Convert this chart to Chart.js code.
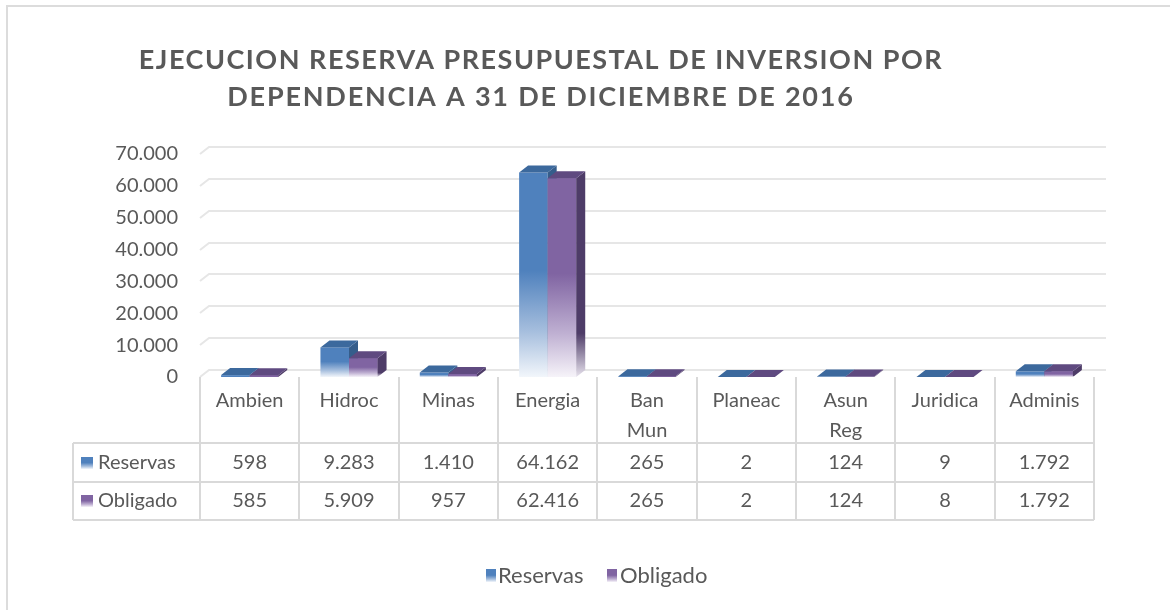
<!doctype html>
<html lang="es">
<head>
<meta charset="utf-8">
<title>Ejecucion reserva presupuestal</title>
<style>
  * { margin: 0; padding: 0; box-sizing: border-box; }
  body { background: #fff; width: 1170px; height: 610px; overflow: hidden; position: relative; }
  .frame { position: absolute; left: 6px; top: 5px; width: 1300px; height: 700px;
    border-left: 2px solid #dcdcdc; border-top: 2px solid #dcdcdc; }
  .cw { position: absolute; left: 0; top: 0; width: 1170px; height: 610px; }
</style>
<script src="https://cdn.jsdelivr.net/npm/chart.js@4.4.1/dist/chart.umd.min.js"></script>
</head>
<body>
<div class="frame"></div>
<div class="cw"><canvas id="c" width="1170" height="610"></canvas></div>
<script>
  // data
  const categories = [["Ambien"], ["Hidroc"], ["Minas"], ["Energia"], ["Ban", "Mun"], ["Planeac"], ["Asun", "Reg"], ["Juridica"], ["Adminis"]];
  const reservas = [598, 9283, 1410, 64162, 265, 2, 124, 9, 1792];
  const obligado = [585, 5909, 957, 62416, 265, 2, 124, 8, 1792];
  const seriesNames = ["Reservas", "Obligado"];
  const yMax = 70000, yStep = 10000;
  const titleLines = ["EJECUCION RESERVA PRESUPUESTAL DE INVERSION POR", "DEPENDENCIA A 31 DE DICIEMBRE DE 2016"];

  const txt = "#595959", line = "#d9d9d9", grid = "#e6e6e6";
  const FONT = "Lato, 'Open Sans', sans-serif";
  const DX = 9, DY = 7; // 3d depth offset
  const cols = [
    { front: "#4f81bd", mid: "#a7bfde", fade: "#f2f6fb", top: "#3c699d", side: "#355d8b", sideFade: "#dfe6f0" },
    { front: "#8064a2", mid: "#bfb0d2", fade: "#f6f3f9", top: "#5f4a80", side: "#4e3c68", sideFade: "#e6e1ec" },
  ];

  const fmt = (v) => String(v).replace(/\B(?=(\d{3})+(?!\d))/g, ".");

  function vgrad(ctx, top, base, a, b, c, d) {
    const g = ctx.createLinearGradient(0, top, 0, base);
    g.addColorStop(0, a); g.addColorStop(0.48, b); g.addColorStop(0.78, c); g.addColorStop(1, d);
    return g;
  }

  function barFill(c, col) {
    const chart = c.chart, y = chart.scales.y;
    if (!y || !chart.chartArea || c.type !== "data") return col.front;
    const top = y.getPixelForValue(c.parsed.y), base = y.getPixelForValue(0);
    if (base - top < 2) return col.front;
    return vgrad(chart.ctx, top, base, col.front, col.front, col.mid, col.fade);
  }

  function poly(ctx, pts, fill) {
    ctx.beginPath();
    ctx.moveTo(pts[0][0], pts[0][1]);
    for (let k = 1; k < pts.length; k++) ctx.lineTo(pts[k][0], pts[k][1]);
    ctx.closePath();
    ctx.fillStyle = fill;
    ctx.fill();
  }

  function faces(ctx, el, col) {
    const { x, y, base, width } = el.getProps(["x", "y", "base", "width"], true);
    const l = x - width / 2, r = x + width / 2;
    const sideFill = base - y > 2 ? vgrad(ctx, y, base, col.side, col.side, col.side, col.sideFade) : col.side;
    poly(ctx, [[r, y], [r + DX, y - DY], [r + DX, base - DY], [r, base]], sideFill);
    poly(ctx, [[l, y], [l + DX, y - DY], [r + DX, y - DY], [r, y]], col.top);
  }

  function swatch(ctx, x, y, w, h, col) {
    ctx.fillStyle = vgrad(ctx, y, y + h, col.front, col.front, col.mid, col.fade);
    ctx.fillRect(x, y, w, h);
  }

  const threeD = {
    id: "threeD",
    beforeDatasetsDraw(chart) {
      const { ctx, chartArea: a, scales: { y } } = chart;
      ctx.save();
      ctx.strokeStyle = grid;
      ctx.lineWidth = 2;
      for (let v = 0; v <= yMax; v += yStep) {
        const py = Math.round(y.getPixelForValue(v));
        ctx.beginPath();
        ctx.moveTo(a.left, py);
        ctx.lineTo(a.left + DX, py - DY);
        ctx.lineTo(a.right + DX + 3, py - DY);
        ctx.stroke();
      }
      ctx.restore();
    },
    afterDatasetsDraw(chart) {
      const ctx = chart.ctx;
      const m0 = chart.getDatasetMeta(0), m1 = chart.getDatasetMeta(1);
      ctx.save();
      for (let i = 0; i < categories.length; i++) {
        faces(ctx, m0.data[i], cols[0]);
        m1.data[i].draw(ctx);
        faces(ctx, m1.data[i], cols[1]);
      }
      ctx.restore();
    },
    afterDraw(chart) {
      const { ctx, chartArea: a } = chart;
      const cw = a.width / categories.length;
      const rowTop = a.bottom, r1 = 443, r2 = 482, r3 = 520, tableLeft = 73;
      ctx.save();
      // title
      ctx.fillStyle = txt;
      ctx.font = "bold 27px " + FONT;
      ctx.textAlign = "center";
      ctx.textBaseline = "middle";
      ctx.letterSpacing = "1.5px";
      ctx.fillText(titleLines[0], 541, 60);
      ctx.letterSpacing = "1.8px";
      ctx.fillText(titleLines[1], 541, 97);
      ctx.letterSpacing = "0px";
      // table grid
      ctx.strokeStyle = line;
      ctx.lineWidth = 2;
      ctx.beginPath();
      for (let i = 0; i <= categories.length; i++) {
        const px = Math.round(a.left + i * cw);
        ctx.moveTo(px, rowTop);
        ctx.lineTo(px, r3);
      }
      [r1, r2, r3].forEach((ry) => { ctx.moveTo(tableLeft, ry); ctx.lineTo(a.right, ry); });
      ctx.moveTo(tableLeft, r1); ctx.lineTo(tableLeft, r3);
      ctx.stroke();
      // table text
      ctx.font = "20px " + FONT;
      ctx.fillStyle = txt;
      categories.forEach((lab, i) => {
        const cx = a.left + (i + 0.5) * cw;
        lab.forEach((s, k) => ctx.fillText(s, cx, 401 + k * 30));
        ctx.fillText(fmt(reservas[i]), cx, 463);
        ctx.fillText(fmt(obligado[i]), cx, 501);
      });
      ctx.textAlign = "left";
      [[463, 0], [501, 1]].forEach(([ry, s]) => {
        swatch(ctx, 81, ry - 6, 12, 12, cols[s]);
        ctx.fillStyle = txt;
        ctx.fillText(seriesNames[s], 98, ry);
      });
      // legend
      ctx.font = "22px " + FONT;
      [[486, 498], [607, 620]].forEach(([bx, tx], s) => {
        swatch(ctx, bx, 569, 10, 13, cols[s]);
        ctx.fillStyle = txt;
        ctx.fillText(seriesNames[s], tx, 576);
      });
      ctx.restore();
    },
  };

  Chart.defaults.font.family = FONT;
  Chart.defaults.color = txt;

  new Chart(document.getElementById("c"), {
    type: "bar",
    data: {
      labels: categories,
      datasets: [
        { label: seriesNames[0], data: reservas, backgroundColor: (c) => barFill(c, cols[0]), borderWidth: 0 },
        { label: seriesNames[1], data: obligado, backgroundColor: (c) => barFill(c, cols[1]), borderWidth: 0 },
      ],
    },
    options: {
      responsive: false,
      animation: false,
      categoryPercentage: 0.575,
      barPercentage: 1,
      layout: { padding: { left: 80, right: 76, top: 154, bottom: 0 } },
      scales: {
        x: {
          grid: { display: false },
          border: { display: false },
          ticks: { display: false },
          afterFit: (s) => { s.height = 233; },
        },
        y: {
          min: 0, max: yMax,
          grid: { display: false, drawTicks: false },
          border: { display: false },
          ticks: { stepSize: yStep, padding: 22, color: txt, font: { size: 20 }, callback: (v) => fmt(v) },
          afterFit: (s) => { s.width = 120; },
        },
      },
      plugins: {
        title: { display: false },
        tooltip: { enabled: false },
        legend: { display: false },
      },
    },
    plugins: [threeD],
  });
</script>
</body>
</html>
